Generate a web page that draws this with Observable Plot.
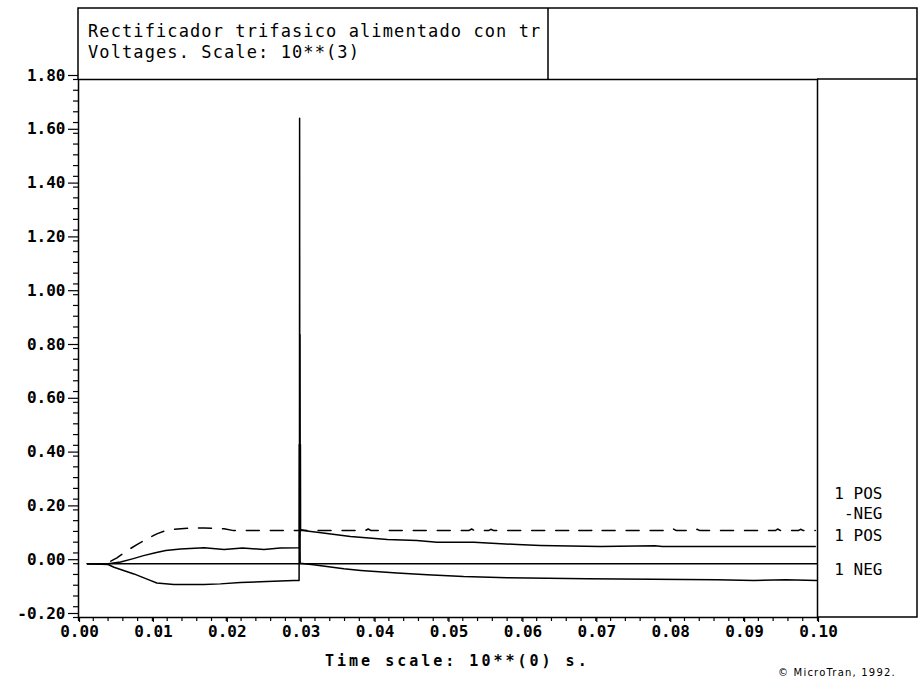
<!DOCTYPE html>
<html><head><meta charset="utf-8">
<script src="https://cdn.jsdelivr.net/npm/d3@7"></script>
<script src="https://cdn.jsdelivr.net/npm/@observablehq/plot@0.6"></script>
<style>body{margin:0;background:#fff}</style>
</head><body><div id="chart"></div>
<script>
// Tick labels
const xTicks = [0, 0.01, 0.02, 0.03, 0.04, 0.05, 0.06, 0.07, 0.08, 0.09, 0.10];
const yTicks = [-0.2, 0, 0.2, 0.4, 0.6, 0.8, 1.0, 1.2, 1.4, 1.6, 1.8];

// Series (time s, voltage kV)
const posNeg = [[0.0012,0],[0.0035,0],[0.0039,0.002],[0.0052,0.022],[0.0066,0.049],[0.0079,0.071],[0.0093,0.093],[0.0106,0.111],[0.0118,0.123],[0.0129,0.128],[0.0156,0.133],[0.0170,0.133],[0.0197,0.130],[0.0210,0.123],[0.0298,0.123],[0.0300,0.126],[0.0311,0.123],[0.0388,0.123],[0.0392,0.129],[0.0396,0.123],[0.0528,0.123],[0.0532,0.129],[0.0536,0.123],[0.0555,0.123],[0.0558,0.128],[0.0562,0.123],[0.0663,0.123],[0.0666,0.129],[0.0670,0.123],[0.0694,0.123],[0.0697,0.128],[0.0701,0.123],[0.0802,0.123],[0.0805,0.129],[0.0809,0.123],[0.0834,0.123],[0.0837,0.128],[0.0841,0.123],[0.0943,0.123],[0.0946,0.129],[0.0950,0.123],[0.0974,0.123],[0.0977,0.128],[0.0981,0.123],[0.0997,0.123]];
const pos = [[0.0012,0],[0.004,0],[0.0057,0.006],[0.0073,0.018],[0.0088,0.030],[0.0104,0.041],[0.0118,0.049],[0.0138,0.055],[0.0170,0.059],[0.0197,0.053],[0.0222,0.058],[0.0251,0.053],[0.0273,0.058],[0.0299,0.059],[0.02992,1.656],[0.02995,0.10],[0.02998,0.852],[0.03001,0.12],[0.03003,0.443],[0.03005,0.124],[0.0323,0.117],[0.0368,0.101],[0.0418,0.090],[0.0458,0.086],[0.0485,0.080],[0.0535,0.080],[0.0594,0.071],[0.0625,0.068],[0.0706,0.064],[0.0780,0.067],[0.0790,0.064],[0.0842,0.064],[0.0997,0.064]];
const neg = [[0.0012,0],[0.004,-0.003],[0.0048,-0.013],[0.0061,-0.025],[0.0075,-0.038],[0.0086,-0.050],[0.0097,-0.062],[0.0106,-0.072],[0.0129,-0.077],[0.0170,-0.077],[0.0192,-0.075],[0.0219,-0.070],[0.0255,-0.066],[0.0291,-0.062],[0.02985,-0.062],[0.02988,0.443],[0.0300,0.002],[0.0318,-0.004],[0.0359,-0.019],[0.0382,-0.025],[0.0431,-0.035],[0.0472,-0.041],[0.0521,-0.048],[0.0580,-0.052],[0.0688,-0.056],[0.0864,-0.060],[0.0914,-0.062],[0.0957,-0.060],[0.0999,-0.062]];
const zeroLine = [[0.0012,0],[0.0999,0]];

// Curve labels
const labelText = ["1 POS", "-NEG", "1 POS", "1 NEG"];
const labelY = [0.242, 0.168, 0.086, -0.040];
const labels = labelText.map((t, i) => ({t, y: labelY[i]}));

const xMinor = d3.range(0, 0.1001, 0.002);
const yMinor = d3.range(-0.2, 1.8001, 0.04);

const line = (data, extra = {}) => Plot.line(data, {x: d => d[0], y: d => d[1], stroke: "black", strokeWidth: 1.5, ...extra});

const chart = Plot.plot({
  width: 919, height: 680,
  marginLeft: 78, marginRight: 102, marginTop: 79, marginBottom: 63,
  x: {domain: [0, 0.1]},
  y: {domain: [-0.2, 1.8]},
  style: {fontFamily: "'DejaVu Sans Mono', monospace", fontSize: "16px", fontWeight: "bold", color: "black", background: "white", overflow: "visible"},
  marks: [
    Plot.frame({stroke: "black", strokeWidth: 1.5}),
    Plot.axisY(yMinor, {tickSize: 5, tickFormat: () => "", label: null, strokeWidth: 1.2}),
    Plot.axisY(yTicks, {tickSize: 10, tickPadding: 3, tickFormat: d => d.toFixed(2), label: null, dy: -4, strokeWidth: 1.2, ariaLabel: "ylab"}),
    Plot.axisX(xMinor, {tickSize: 4, tickFormat: () => "", label: null, strokeWidth: 1.2}),
    Plot.axisX(xTicks, {tickSize: 5, tickPadding: 3, tickFormat: d => d.toFixed(2), label: null, strokeWidth: 1.2, dx: 1, ariaLabel: "xlab"}),
    line(zeroLine),
    line(neg),
    line(pos),
    line(posNeg, {strokeDasharray: "13,11"}),
    Plot.text(labels, {x: () => 0.1, y: "y", text: "t", textAnchor: "end", dx: 65, dy: -5, fontSize: 16, fontWeight: "normal", ariaLabel: "curvelab"})
  ]
});

document.getElementById("chart").appendChild(chart);
const svg = d3.select(chart);
svg.selectAll('[aria-label="ylab"] text, [aria-label="xlab"] text').style("letter-spacing", "2.2px");
svg.selectAll('[aria-label="curvelab"] text').style("letter-spacing", "1.7px");

// Boxes around title and legend area
const g = svg.append("g").attr("fill", "none").attr("stroke", "black").attr("stroke-width", 1.5);
g.append("path").attr("d", "M78,79 V8 H917 V617 H817 M817,79 H917 M548,8 V79");

// Title
const tg = svg.append("g").attr("text-anchor", "start").attr("font-family", "'DejaVu Sans Mono', monospace").attr("font-size", 17).attr("font-weight", "normal").style("letter-spacing", "1.1px").attr("fill", "black");
tg.append("text").attr("x", 88).attr("y", 37).text("Rectificador trifasico alimentado con tr");
tg.append("text").attr("x", 88).attr("y", 58).text("Voltages. Scale: 10**(3)");

// Axis title and copyright
svg.append("text").attr("text-anchor", "start").attr("x", 325).attr("y", 666).attr("font-size", 15).attr("font-weight", "bold").style("letter-spacing", "3px").text("Time scale: 10**(0) s.");
svg.append("text").attr("text-anchor", "start").attr("x", 778).attr("y", 676).attr("font-family", "'DejaVu Sans', sans-serif").attr("font-size", 10).attr("font-weight", "normal").style("letter-spacing", "1.2px").text("© MicroTran, 1992.");
</script>
</body></html>
